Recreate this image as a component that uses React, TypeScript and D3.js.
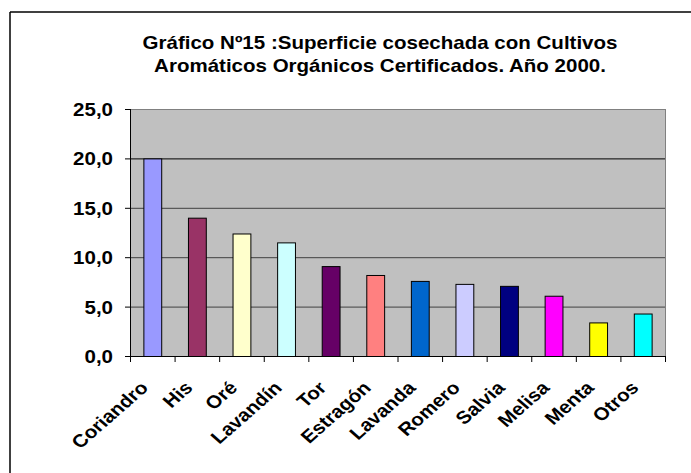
import React from "react";
import * as d3 from "d3";

const categories = ["Coriandro", "His", "Oré", "Lavandín", "Tor", "Estragón", "Lavanda", "Romero", "Salvia", "Melisa", "Menta", "Otros"];
const values = [20.0, 14.0, 12.4, 11.5, 9.1, 8.2, 7.6, 7.3, 7.1, 6.1, 3.4, 4.3];
const colors = ["#9999ff", "#993366", "#ffffcc", "#ccffff", "#660066", "#ff8080", "#0066cc", "#ccccff", "#000080", "#ff00ff", "#ffff00", "#00ffff"];
const yTicks = [0, 5, 10, 15, 20, 25];
const titleLines = ["Gráfico Nº15 :Superficie cosechada con Cultivos", "Aromáticos Orgánicos Certificados. Año 2000."];

const W = 691, H = 473;
const left = 130, right = 665, top = 109, bottom = 356;
const SX = 1.14;

export default function App() {
  const x = d3.scaleBand<string>().domain(categories).range([left, right]);
  const y = d3.scaleLinear().domain([0, 25]).range([bottom, top]);
  const step = x.step();
  const bw = step * 0.4;
  const font = "'Liberation Sans', Arial, sans-serif";
  const fmt = (v: number) => v.toFixed(1).replace(".", ",");
  return (
    <svg width={W} height={H} style={{ position: "absolute", left: 0, top: 0, background: "#fff" }} fontFamily={font}>
      <line x1={10} x2={691} y1={12} y2={12} stroke="#000" strokeWidth={1.5} />
      <line x1={10} x2={10} y1={12} y2={473} stroke="#000" strokeWidth={1.5} />
      {titleLines.map((t, i) => (
        <text key={i} x={0} y={0} textAnchor="middle" fontWeight="bold" fontSize={18}
          transform={`translate(380,${48.5 + i * 23}) scale(${SX},1)`}>{t}</text>
      ))}
      <rect x={left} y={top} width={right - left} height={bottom - top} fill="#c0c0c0" />
      {yTicks.filter(t => t > 0 && t < 25).map(t => (
        <line key={t} x1={left} x2={right} y1={y(t) + 0.5} y2={y(t) + 0.5} stroke={t === 20 ? "#000" : "#404040"} strokeWidth={1} />
      ))}
      <line x1={left} x2={right} y1={top + 0.5} y2={top + 0.5} stroke="#808080" />
      <line x1={right + 0.5} x2={right + 0.5} y1={top} y2={bottom} stroke="#808080" />
      {categories.map((c, i) => (
        <rect key={c} x={(x(c) as number) + (step - bw) / 2 + 0.5} y={y(values[i]) + 0.5} width={bw} height={bottom - y(values[i])}
          fill={colors[i]} stroke="#000" strokeWidth={1} />
      ))}
      <line x1={left + 0.5} x2={left + 0.5} y1={top} y2={bottom} stroke="#000" />
      <line x1={left} x2={right + 1} y1={bottom + 0.5} y2={bottom + 0.5} stroke="#000" />
      {yTicks.map(t => (
        <g key={t}>
          <line x1={left - 5} x2={left} y1={y(t) + 0.5} y2={y(t) + 0.5} stroke="#000" />
          <text x={0} y={0} textAnchor="end" fontWeight="bold" fontSize={18}
            transform={`translate(${left - 17},${y(t) + 7}) scale(${SX},1)`}>{fmt(t)}</text>
        </g>
      ))}
      {d3.range(categories.length + 1).map(i => (
        <line key={i} x1={left + i * step + 0.5} x2={left + i * step + 0.5} y1={bottom} y2={bottom + 6} stroke="#000" />
      ))}
      {categories.map(c => (
        <text key={c} x={0} y={0} textAnchor="end" fontWeight="bold" fontSize={18}
          transform={`translate(${(x(c) as number) + step / 2 - 3},389) scale(${SX},1) rotate(-45)`}>{c}</text>
      ))}
    </svg>
  );
}
